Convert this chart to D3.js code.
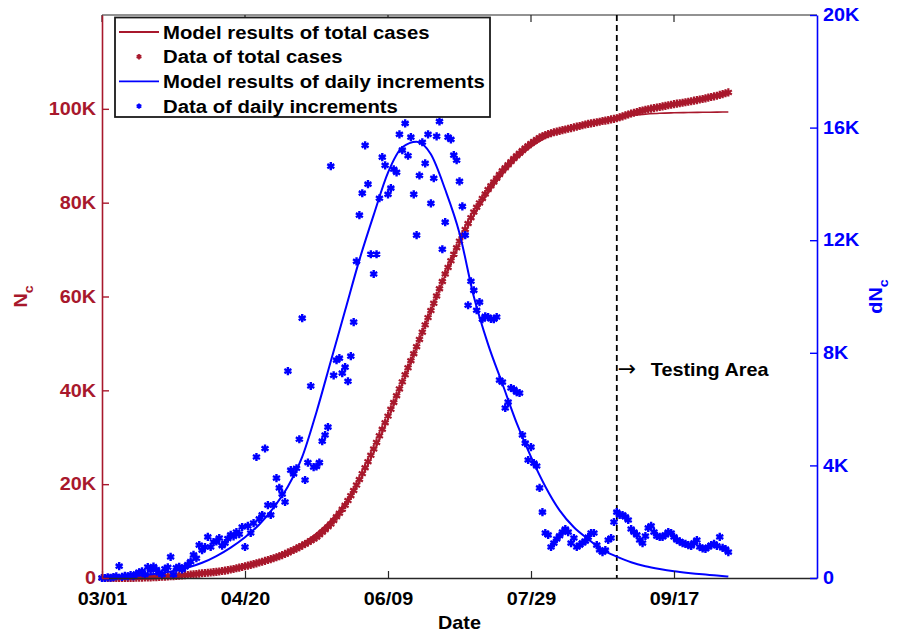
<!DOCTYPE html>
<html>
<head>
<meta charset="utf-8">
<script src="https://cdn.jsdelivr.net/npm/d3@7"></script>
<style>
  html, body { margin: 0; padding: 0; background: #fff; }
  svg { display: block; }
</style>
</head>
<body>
<svg id="chart" width="908" height="632"></svg>
<script>
// ---- Data: day index 0 = 03/01 ----
// Reported cumulative cases (left axis), one value per day, days 0..219
const totalCases = [
  0, 0, 1, 2, 3, 5, 8, 12, 17, 23,
  30, 40, 52, 66, 82, 100, 122, 146, 172, 200,
  230, 262, 296, 332, 370, 410, 455, 505, 560, 600,
  650, 715, 780, 850, 925, 1000, 1060, 1120, 1180, 1240,
  1300, 1390, 1480, 1580, 1690, 1800, 1930, 2070, 2210, 2350,
  2500, 2650, 2810, 2970, 3130, 3300, 3470, 3650, 3830, 4010,
  4200, 4420, 4640, 4880, 5130, 5400, 5690, 5980, 6280, 6590,
  6900, 7240, 7590, 7950, 8320, 8700, 9200, 9750, 10300, 10900,
  11500, 12250, 13050, 13800, 14650, 15500, 16500, 17550, 18650, 19800,
  21000, 22250, 23500, 24800, 26150, 27500, 28900, 30300, 31700, 33100,
  34500, 35950, 37400, 38850, 40300, 41800, 43300, 44800, 46300, 47800,
  49300, 50850, 52400, 53950, 55500, 57000, 58550, 60100, 61650, 63200,
  64800, 66200, 67600, 69000, 70400, 71800, 73050, 74300, 75550, 76800,
  78000, 79000, 79950, 80900, 81850, 82800, 83600, 84400, 85200, 86000,
  86800, 87450, 88100, 88750, 89400, 90000, 90550, 91100, 91650, 92150,
  92600, 93050, 93450, 93850, 94150, 94400, 94600, 94800, 95000, 95150,
  95300, 95450, 95600, 95750, 95900, 96050, 96200, 96350, 96500, 96650,
  96800, 96900, 97000, 97150, 97250, 97400, 97500, 97600, 97750, 97850,
  98000, 98200, 98400, 98600, 98800, 99000, 99170, 99330, 99500, 99650,
  99800, 99920, 100040, 100160, 100280, 100400, 100520, 100640, 100760, 100880,
  101000, 101100, 101200, 101300, 101400, 101500, 101620, 101740, 101860, 101980,
  102100, 102240, 102380, 102520, 102660, 102800, 102970, 103140, 103310, 103500
];

// Reported daily increments (right axis), days 0..219
const dailyCases = [
  0, 0, 20, 10, 30, 60, 420, 40, 80, 60,
  100, 60, 150, 200, 240, 120, 390, 280, 410, 300,
  180, 130, 330, 380, 750, 120, 360, 400, 300, 390,
  480, 580, 820, 700, 1170, 990, 1100, 1460, 1100, 1280,
  1300, 1420, 1150, 1240, 1400, 1530, 1480, 1630, 1560, 1810,
  1100, 1850, 1600, 1950, 4300, 2100, 2240, 4600, 2590, 2240,
  2590, 3550, 3200, 2980, 2700, 7350, 3830, 3700, 3900, 4930,
  9230, 3480, 4100, 6820, 3940, 3960, 4100, 4860, 5080, 5360,
  14630, 7200, 7740, 7810, 7280, 7490, 6990, 7880, 9090, 11250,
  12890, 13670, 15370, 13990, 11500, 10800, 11500, 13490, 14950, 14660,
  13630, 13850, 14520, 14410, 15760, 15200, 16150, 15000, 15660, 13630,
  12180, 14300, 15480, 14730, 15760, 13310, 14200, 15690, 16220, 11680,
  12640, 15660, 15580, 15020, 14840, 14090, 13200, 12180, 9690, 10540,
  10220, 9510, 9800, 9190, 9300, 9270, 9200, 9190, 9270, 7030,
  6960, 6040, 6250, 6750, 6700, 6600, 6570, 5080, 4790, 4190,
  4650, 4080, 3980, 3200, 2340, 1600, 1530, 1100, 1240, 1385,
  1500, 1630, 1740, 1630, 1240, 1420, 1100, 1170, 1250, 1310,
  1450, 1600, 1600, 1170, 1000, 920, 990, 1350, 1420, 1990,
  2340, 2240, 2240, 2170, 2060, 1740, 1630, 1530, 1350, 1240,
  1490, 1780, 1850, 1630, 1490, 1460, 1460, 1530, 1630, 1600,
  1460, 1350, 1300, 1240, 1210, 1170, 1140, 1250, 1350, 1100,
  1050, 1030, 1100, 1170, 1210, 1140, 1460, 1070, 1030, 920
];

// Model output sampled on these days
const modelDays = [0, 5, 10, 15, 20, 25, 30, 35, 40, 45, 50, 55, 60, 65, 70, 75, 80, 85, 90, 95,
  100, 105, 110, 115, 120, 125, 130, 135, 140, 145, 150, 155, 160, 165, 170, 175, 180, 185, 190,
  195, 200, 205, 210, 215, 219];
const modelTotal = [0, 10, 30, 80, 170, 320, 540, 840, 1250, 1800, 2500, 3350, 4400, 5700, 7300,
  9500, 12300, 15800, 20600, 26800, 34000, 41500, 49300, 57000, 64500, 71400, 77200, 82000, 86000,
  89300, 91900, 93800, 95200, 96300, 97100, 97700, 98200, 98600, 98850, 99050, 99150, 99220,
  99270, 99300, 99320];
const modelDaily = [20, 40, 70, 110, 170, 250, 370, 540, 780, 1080, 1450, 1900, 2500, 3250, 4300,
  5900, 7700, 9500, 11300, 12900, 14400, 15300, 15500, 15050, 13800, 12250, 10000, 8300, 6900,
  5500, 4300, 3250, 2400, 1800, 1380, 1000, 760, 560, 420, 320, 240, 180, 130, 90, 50];

// Axis ticks
const xTickDays = [0, 50, 100, 150, 200];
const xTickLabels = ["03/01", "04/20", "06/09", "07/29", "09/17"];
const leftTickValues = [0, 20000, 40000, 60000, 80000, 100000];
const leftTickLabels = ["0", "20K", "40K", "60K", "80K", "100K"];
const rightTickValues = [0, 4000, 8000, 12000, 16000, 20000];
const rightTickLabels = ["0", "4K", "8K", "12K", "16K", "20K"];
const testingStartDay = 180;

// ---- Layout & style ----
const RED = "#A8182C";
const BLUE = "#0000FF";
const DARK = "#262626";
const FONT = "'Liberation Sans', Arial, Helvetica, sans-serif";
const FS = 18;      // bold label size
const SX = 1.1;     // horizontal widening of the bold lettering
const SX_LEGEND = 1.13;

const M = { left: 102, right: 817, top: 15, bottom: 578 };

const svg = d3.select("#chart");

const x = d3.scaleLinear().domain([0, 250]).range([M.left, M.right]);
const yL = d3.scaleLinear().domain([0, 120000]).range([M.bottom, M.top]);
const yR = d3.scaleLinear().domain([0, 20000]).range([M.bottom, M.top]);

// widen text horizontally around its anchor point
function widen(sel) {
  sel.attr("transform", `scale(${SX},1)`);
}

// ---- Frame (top edge) ----
svg.append("line")
  .attr("x1", M.left).attr("x2", M.right)
  .attr("y1", M.top).attr("y2", M.top)
  .attr("stroke", DARK).attr("stroke-width", 1.2);
svg.append("g").selectAll("line").data(xTickDays).join("line")
  .attr("x1", d => x(d)).attr("x2", d => x(d))
  .attr("y1", M.top).attr("y2", M.top + 7)
  .attr("stroke", DARK).attr("stroke-width", 1.2);

// ---- Testing area boundary ----
svg.append("line")
  .attr("x1", x(testingStartDay)).attr("x2", x(testingStartDay))
  .attr("y1", M.top).attr("y2", M.bottom)
  .attr("stroke", "#000").attr("stroke-width", 1.8)
  .attr("stroke-dasharray", "6,4");

// ---- Cumulative cases (left axis) ----
const lineL = d3.line().x((d, i) => x(modelDays[i])).y(d => yL(d)).curve(d3.curveMonotoneX);
const lineR = d3.line().x((d, i) => x(modelDays[i])).y(d => yR(d)).curve(d3.curveMonotoneX);

svg.append("path").datum(modelTotal)
  .attr("d", lineL).attr("fill", "none")
  .attr("stroke", RED).attr("stroke-width", 1.6);

const starRed = d3.symbol(d3.symbolAsterisk, 46);
svg.append("g").selectAll("path").data(totalCases).join("path")
  .attr("transform", (d, i) => `translate(${x(i)},${yL(d)})`)
  .attr("d", starRed)
  .attr("fill", "none").attr("stroke", RED).attr("stroke-width", 2.2);

// ---- Daily increments (right axis) ----
svg.append("path").datum(modelDaily)
  .attr("d", lineR).attr("fill", "none")
  .attr("stroke", BLUE).attr("stroke-width", 2);

const starBlue = d3.symbol(d3.symbolAsterisk, 46);
svg.append("g").selectAll("path").data(dailyCases).join("path")
  .attr("transform", (d, i) => `translate(${x(i)},${yR(d)})`)
  .attr("d", starBlue)
  .attr("fill", "none").attr("stroke", BLUE).attr("stroke-width", 2.4);

// ---- Axes ----
const gx = svg.append("g")
  .attr("transform", `translate(0,${M.bottom})`)
  .call(d3.axisBottom(x).tickValues(xTickDays)
    .tickFormat((d, i) => xTickLabels[i])
    .tickSizeInner(-7).tickSizeOuter(0).tickPadding(14));
gx.select(".domain").attr("stroke", DARK).attr("stroke-width", 1.4);
gx.selectAll(".tick line").attr("stroke", DARK).attr("stroke-width", 1.2);
gx.selectAll(".tick text")
  .attr("fill", "#000").attr("font-family", FONT).attr("font-size", FS)
  .attr("font-weight", "bold").call(widen);

const gl = svg.append("g")
  .attr("transform", `translate(${M.left},0)`)
  .call(d3.axisLeft(yL).tickValues(leftTickValues)
    .tickFormat((d, i) => leftTickLabels[i])
    .tickSizeInner(-7).tickSizeOuter(0).tickPadding(5.5));
gl.select(".domain").attr("stroke", RED).attr("stroke-width", 1.6);
gl.selectAll(".tick line").attr("stroke", RED).attr("stroke-width", 1.4);
gl.selectAll(".tick text")
  .attr("fill", RED).attr("font-family", FONT).attr("font-size", FS)
  .attr("font-weight", "bold").call(widen);

const gr = svg.append("g")
  .attr("transform", `translate(${M.right},0)`)
  .call(d3.axisRight(yR).tickValues(rightTickValues)
    .tickFormat((d, i) => rightTickLabels[i])
    .tickSizeInner(-7).tickSizeOuter(0).tickPadding(5.5));
gr.select(".domain").attr("stroke", BLUE).attr("stroke-width", 1.6);
gr.selectAll(".tick line").attr("stroke", BLUE).attr("stroke-width", 1.4);
gr.selectAll(".tick text")
  .attr("fill", BLUE).attr("font-family", FONT).attr("font-size", FS)
  .attr("font-weight", "bold").call(widen);

// ---- Axis titles ----
svg.append("g").attr("transform", `translate(${(M.left + M.right) / 2},629) scale(${SX},1)`)
  .append("text").attr("text-anchor", "middle")
  .attr("font-family", FONT).attr("font-size", FS).attr("font-weight", "bold")
  .attr("fill", "#000").text("Date");

function yTitle(cx, color, main) {
  const t = svg.append("g")
    .attr("transform", `translate(${cx},${(M.top + M.bottom) / 2}) rotate(-90) scale(${SX},1)`)
    .append("text").attr("text-anchor", "middle")
    .attr("font-family", FONT).attr("font-size", FS).attr("font-weight", "bold")
    .attr("fill", color);
  t.append("tspan").text(main);
  t.append("tspan").attr("dy", 6).attr("font-size", 13).text("c");
}
yTitle(27, RED, "N");
yTitle(882, BLUE, "dN");

// ---- Testing area annotation ----
const ann = svg.append("g")
  .attr("transform", `translate(${x(testingStartDay) + 1},${yR(7180)})`);
ann.append("text")
  .attr("font-family", "'DejaVu Sans', sans-serif").attr("font-size", 22)
  .attr("fill", "#000").attr("y", 0).text("→");
ann.append("g").attr("transform", `translate(33,0) scale(${SX},1)`)
  .append("text").attr("font-family", FONT).attr("font-size", FS)
  .attr("font-weight", "bold").attr("fill", "#000").text("Testing Area");

// ---- Legend ----
const legendItems = [
  { label: "Model results of total cases", color: RED, kind: "line" },
  { label: "Data of total cases", color: RED, kind: "marker" },
  { label: "Model results of daily increments", color: BLUE, kind: "line" },
  { label: "Data of daily increments", color: BLUE, kind: "marker" }
];
const lg = svg.append("g");
lg.append("rect")
  .attr("x", 115).attr("y", 17.5).attr("width", 375).attr("height", 99.5)
  .attr("fill", "#fff").attr("stroke", "#1a1a1a").attr("stroke-width", 1.8);
const rows = lg.selectAll("g.item").data(legendItems).join("g")
  .attr("class", "item")
  .attr("transform", (d, i) => `translate(0,${32 + i * 24.7})`);
rows.filter(d => d.kind === "line").append("line")
  .attr("x1", 119).attr("x2", 159).attr("y1", 0).attr("y2", 0)
  .attr("stroke", d => d.color).attr("stroke-width", 1.8);
rows.filter(d => d.kind === "marker").append("path")
  .attr("transform", "translate(139,0)")
  .attr("d", d3.symbol(d3.symbolAsterisk, 20))
  .attr("fill", "none").attr("stroke", d => d.color).attr("stroke-width", 1.8);
rows.append("g").attr("transform", `translate(163,6.5) scale(${SX_LEGEND},1)`)
  .append("text").attr("font-family", FONT).attr("font-size", FS)
  .attr("font-weight", "bold").attr("fill", "#000").text(d => d.label);
</script>
</body>
</html>
